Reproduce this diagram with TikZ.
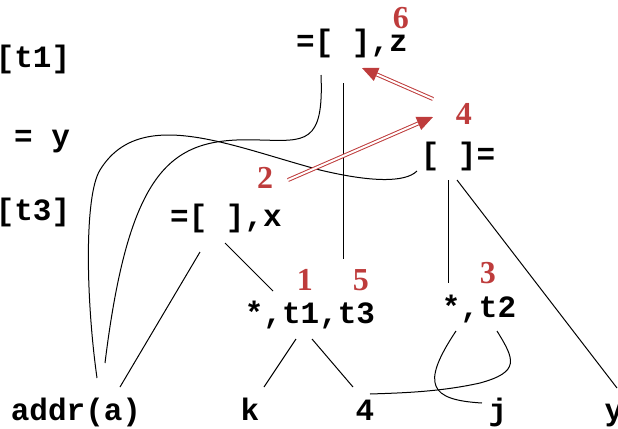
\documentclass[tikz,border=0pt]{standalone}
\usepackage{fontspec}
\setmonofont{Liberation Mono}
\setmainfont{Liberation Serif}
\usetikzlibrary{arrows.meta}
\definecolor{stepred}{RGB}{190,60,60}

\begin{document}
\begin{tikzpicture}[
  x=0.5pt, y=-0.5pt,
  code/.style={font=\fontsize{15.5}{15.5}\selectfont\ttfamily\bfseries, anchor=base, inner sep=0pt},
  num/.style={font=\fontsize{16}{16}\selectfont\bfseries, text=stepred, anchor=base, inner sep=0pt},
  edge/.style={draw=black, line width=0.5pt},
  order/.style={draw=stepred, double=white, line width=0.5pt, double distance=1pt,
                -{Triangle[length=8pt, width=7pt, fill=stepred]}},
]
\useasboundingbox (0,0) rectangle (618,429);

% the left column: what the tree stands for
\node[code] (t1lab) at (33,67)  {[t1]};
\node[code] (ylab)  at (42,146) {= y};
\node[code] (t3lab) at (33,220) {[t3]};

% the tree
\node[code] (zas)  at (352,51)  {=[ ],z};
\node[code] (yas)  at (458,164) {[ ]=};
\node[code] (xas)  at (226,226) {=[ ],x};
\node[code] (mul1) at (310,323) {*,t1,t3};
\node[code] (mul2) at (479,317) {*,t2};
\node[code] (addr) at (76,420)  {addr(a)};
\node[code] (k)    at (250,420) {k};
\node[code] (four) at (365,420) {4};
\node[code] (j)    at (498,420) {j};
\node[code] (yleaf) at (614,420) {y};

% evaluation order
\node[num] (n6) at (401,28)  {6};
\node[num] (n4) at (464,124) {4};
\node[num] (n2) at (265,188) {2};
\node[num] (n1) at (305,290) {1};
\node[num] (n5) at (361,290) {5};
\node[num] (n3) at (488,283) {3};

% edges
\draw[edge] ([shift={(-31,24)}]zas.base) .. controls (324,145) and (305,141) .. (260,140)
  .. controls (175,137) and (130,160) .. ([shift={(29,-57)}]addr.base);
\draw[edge] ([shift={(-41,7)}]yas.base) .. controls (405,183) and (370,182) .. (320,170)
  .. controls (230,146) and (140,105) .. (100,170)
  .. controls (84,196) and (86,300) .. ([shift={(21,-42)}]addr.base);
\draw[edge] ([shift={(-26,26)}]xas.base) -- ([shift={(44,-33)}]addr.base);
\draw[edge] ([shift={(-1,17)}]xas.base) -- ([shift={(-37,-32)}]mul1.base);
\draw[edge] ([shift={(-8,32)}]zas.base) -- ([shift={(34,-64)}]mul1.base);
\draw[edge] ([shift={(-9,16)}]yas.base) -- ([shift={(-30,-34)}]mul2.base);
\draw[edge] ([shift={(-1,16)}]yas.base) -- ([shift={(3,-32)}]yleaf.base);
\draw[edge] ([shift={(-14,16)}]mul1.base) -- ([shift={(14,-33)}]k.base);
\draw[edge] ([shift={(2,16)}]mul1.base) -- ([shift={(-12,-33)}]four.base);
\draw[edge] ([shift={(-23,14)}]mul2.base) .. controls (420,385) and (430,400) .. ([shift={(-16,-17)}]j.base);
\draw[edge] ([shift={(18,14)}]mul2.base) .. controls (515,360) and (520,372) .. (480,383)
  .. controls (440,392) and (400,393) .. ([shift={(5,-26)}]four.base);

% order arrows
\draw[order] ([shift={(23,-8)}]n2.base) -- ([shift={(-31,-7)}]n4.base);
\draw[order] ([shift={(-31,-25)}]n4.base) -- ([shift={(10,17)}]zas.base);

\end{tikzpicture}
\end{document}
